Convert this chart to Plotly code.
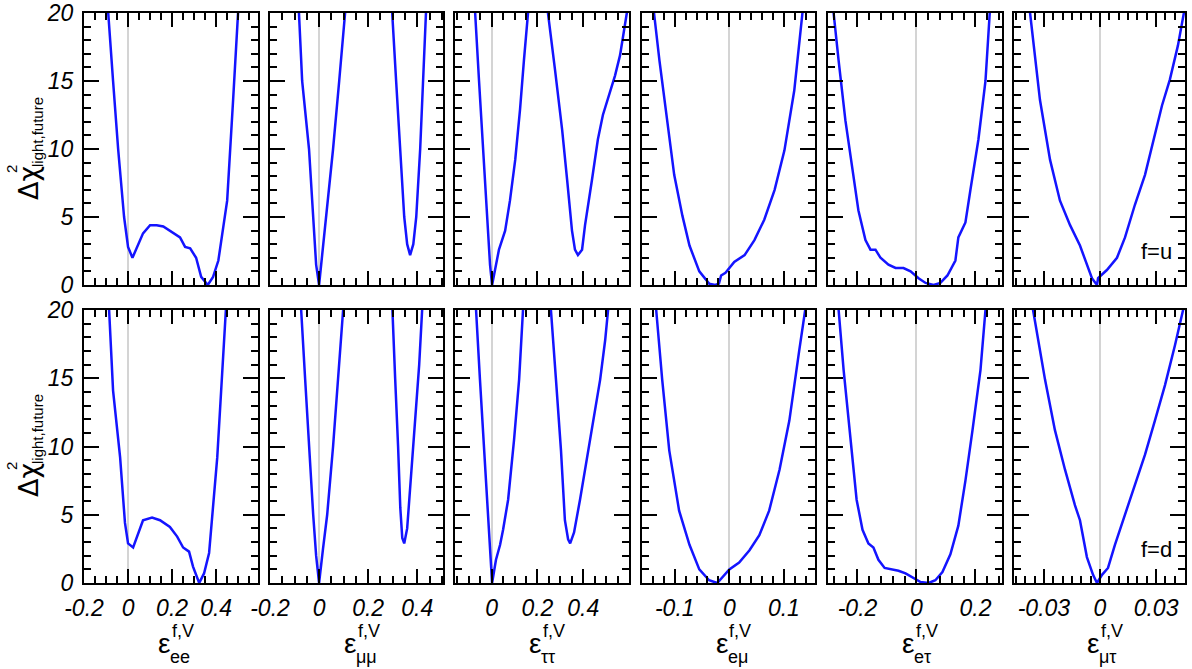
import plotly.graph_objects as go

# ---------------- data ----------------
# panel 1: eps_ee
ee_u_x = [-0.1, -0.09, -0.068, -0.045, -0.018, 0.0, 0.02, 0.04, 0.068, 0.1, 0.13, 0.16, 0.19, 0.21, 0.236,
          0.259, 0.282, 0.309, 0.332, 0.362, 0.386, 0.41, 0.45, 0.477, 0.5, 0.51]
ee_u_y = [24, 20, 15, 10, 5, 2.8, 2.0, 2.8, 3.8, 4.4, 4.4, 4.3, 4.0, 3.8, 3.5, 2.8, 2.7, 2.0, 0.6, 0.0, 0.6,
          1.8, 6.2, 13.6, 20, 23]
ee_d_x = [-0.095, -0.086, -0.068, -0.036, -0.014, 0.0, 0.023, 0.041, 0.068, 0.109, 0.145, 0.19, 0.223, 0.25,
          0.277, 0.295, 0.323, 0.345, 0.368, 0.405, 0.445, 0.455]
ee_d_y = [24, 20, 14.1, 9.2, 4.4, 2.9, 2.6, 3.4, 4.6, 4.8, 4.6, 4.1, 3.4, 2.6, 2.3, 1.2, 0.0, 0.7, 2.2, 9.2, 20, 23]

# panel 2: eps_mumu
mm_u_x = [-0.09, -0.082, -0.069, -0.041, -0.024, -0.012, 0.0, 0.029, 0.057, 0.082, 0.106, 0.115, None,
          0.29, 0.298, 0.314, 0.331, 0.347, 0.359, 0.371, 0.384, 0.396, 0.412, 0.424, 0.437, 0.445]
mm_u_y = [25, 20, 15, 10, 5, 1.5, 0.0, 5, 10, 15, 20, 24, None,
          24, 20, 15, 10, 5, 3.0, 2.2, 3.0, 5, 10, 15, 20, 24]
mm_d_x = [-0.08, -0.073, -0.057, -0.041, -0.024, -0.012, 0.0, 0.016, 0.033, 0.057, 0.078, 0.098, 0.106, None,
          0.29, 0.298, 0.31, 0.322, 0.331, 0.339, 0.347, 0.359, 0.371, 0.392, 0.408, 0.42, 0.428]
mm_d_y = [24, 20, 15, 10, 5, 2.0, 0.0, 2.5, 5, 10, 15, 20, 24, None,
          24, 20, 15, 10, 5.5, 3.3, 2.9, 4.0, 7.0, 12, 16, 20, 24]

# panel 3: eps_tautau
tt_u_x = [-0.08, -0.072, -0.055, -0.038, -0.02, -0.007, 0.002, 0.015, 0.032, 0.059, 0.08, 0.103, 0.124, 0.141,
          0.159, 0.168, None,
          0.237, 0.246, 0.277, 0.308, 0.33, 0.351, 0.364, 0.377, 0.395, 0.408, 0.438, 0.464, 0.486, 0.517,
          0.539, 0.561, 0.587, 0.6]
tt_u_y = [24, 20, 15, 9.9, 4.8, 1.5, 0.0, 1.1, 2.6, 4.0, 6.2, 9.2, 12.9, 16.5, 20, 24, None,
          24, 20, 15.8, 11.4, 7.7, 4.0, 2.6, 2.2, 2.6, 4.4, 7.7, 10.7, 12.5, 14.3, 15.4, 16.9, 19.5, 21]
tt_d_x = [-0.076, -0.068, -0.051, -0.033, -0.016, 0.002, 0.019, 0.037, 0.05, 0.072, 0.098, 0.12, 0.137, 0.145,
          None,
          0.25, 0.259, 0.281, 0.303, 0.32, 0.334, 0.343, 0.36, 0.386, 0.421, 0.452, 0.474, 0.496, 0.509, 0.52]
tt_d_y = [24, 20, 14.9, 9.7, 4.6, 0.0, 1.7, 2.8, 3.9, 6.1, 10.5, 14.9, 20, 24, None,
          24, 20, 14.9, 9.7, 4.6, 3.2, 2.9, 3.7, 6.1, 9.7, 12.7, 14.9, 17.8, 20, 22]

# panel 4: eps_emu
em_u_x = [-0.145, -0.138, -0.128, -0.114, -0.101, -0.086, -0.073, -0.055, -0.037, -0.026, -0.019, -0.015,
          -0.007, 0.009, 0.028, 0.046, 0.064, 0.083, 0.101, 0.119, 0.134, 0.14]
em_u_y = [24, 20, 16.5, 12.1, 8.1, 5.1, 2.9, 1.0, 0.1, 0.0, 0.1, 0.7, 0.9, 1.7, 2.2, 3.3, 4.8, 7.0, 9.9, 14.3,
          20, 24]
em_d_x = [-0.14, -0.134, -0.123, -0.11, -0.092, -0.073, -0.055, -0.037, -0.022, -0.013, 0.0, 0.018, 0.037,
          0.055, 0.073, 0.092, 0.11, 0.128, 0.139, 0.145]
em_d_y = [24, 20, 14.9, 9.7, 5.3, 2.8, 1.0, 0.2, 0.0, 0.4, 1.0, 1.5, 2.4, 3.5, 5.3, 8.3, 11.9, 17, 20, 24]

# panel 5: eps_etau
et_u_x = [-0.29, -0.281, -0.264, -0.241, -0.217, -0.197, -0.173, -0.156, -0.139, -0.122, -0.095, -0.071,
          -0.044, -0.02, 0.007, 0.031, 0.058, 0.081, 0.105, 0.132, 0.142, 0.166, 0.183, 0.21, 0.234, 0.251, 0.26]
et_u_y = [24, 20, 16.5, 12.1, 8.5, 5.5, 3.3, 2.6, 2.6, 2.0, 1.5, 1.25, 1.25, 1.0, 0.5, 0.15, 0.0, 0.15, 0.7,
          1.8, 3.5, 4.6, 7.0, 10.7, 15, 20, 24]
et_d_x = [-0.272, -0.264, -0.247, -0.224, -0.203, -0.183, -0.163, -0.146, -0.129, -0.108, -0.088, -0.061,
          -0.037, -0.014, 0.014, 0.041, 0.064, 0.088, 0.115, 0.142, 0.166, 0.19, 0.217, 0.234, 0.242]
et_d_y = [24, 20, 15.6, 10.5, 6.1, 3.9, 2.9, 2.6, 1.7, 1.1, 1.0, 0.9, 0.7, 0.4, 0.07, 0.0, 0.2, 0.8, 2.1, 4.2,
          7.5, 11.2, 15.6, 20, 24]

# panel 6: eps_mutau
mt_u_x = [-0.040, -0.0374, -0.0321, -0.0267, -0.0214, -0.016, -0.0107, -0.007, -0.0043, -0.0016, -0.001,
          0.0037, 0.0091, 0.0134, 0.0187, 0.0241, 0.0294, 0.0332, 0.0374, 0.0417, 0.0449, 0.047]
mt_u_y = [24, 20, 13.6, 9.2, 6.2, 4.4, 2.9, 1.5, 0.5, 0.0, 0.5, 1.1, 2.0, 3.5, 5.9, 8.1, 11, 13.2, 15.1, 17.6,
          20, 21.5]
mt_d_x = [-0.0375, -0.0358, -0.0294, -0.0241, -0.0187, -0.0134, -0.0107, -0.007, -0.0037, -0.0016, 0.0011,
          0.0043, 0.008, 0.0123, 0.0187, 0.0241, 0.0294, 0.0348, 0.0401, 0.0449, 0.047]
mt_d_y = [24, 20, 14.9, 11.2, 8.3, 5.7, 4.6, 1.9, 0.6, 0.0, 0.6, 1.1, 2.8, 4.6, 7.2, 9.4, 11.9, 14.5, 17.4,
          20, 21.5]

# axes / labels
x_ranges = [[-0.2, 0.59], [-0.2, 0.505], [-0.16, 0.6], [-0.16, 0.157], [-0.3, 0.29], [-0.046, 0.0455]]
x_tickvals = [[-0.2, 0, 0.2, 0.4], [-0.2, 0, 0.2, 0.4], [0, 0.2, 0.4], [-0.1, 0, 0.1], [-0.2, 0, 0.2],
              [-0.03, 0, 0.03]]
x_ticktext = [["-0.2", "0", "0.2", "0.4"], ["-0.2", "0", "0.2", "0.4"], ["0", "0.2", "0.4"],
              ["-0.1", "0", "0.1"], ["-0.2", "0", "0.2"], ["-0.03", "0", "0.03"]]
x_minor = [0.05, 0.05, 0.05, 0.02, 0.04, 0.005]
x_subs = ["ee", "μμ", "ττ", "eμ", "eτ", "μτ"]
y_tickvals = [0, 5, 10, 15, 20]
y_ticktext = ["0", "5", "10", "15", "20"]
row_labels = ["f=u", "f=d"]

curves = [
    [(ee_u_x, ee_u_y), (mm_u_x, mm_u_y), (tt_u_x, tt_u_y), (em_u_x, em_u_y), (et_u_x, et_u_y), (mt_u_x, mt_u_y)],
    [(ee_d_x, ee_d_y), (mm_d_x, mm_d_y), (tt_d_x, tt_d_y), (em_d_x, em_d_y), (et_d_x, et_d_y), (mt_d_x, mt_d_y)],
]

# ---------------- layout geometry ----------------
W, H = 1192, 669
col_px = [(84, 258), (270, 443), (455, 629), (642, 815), (828, 1002), (1014, 1185)]
row_px = [(13, 285), (310, 583)]
FONT = "Liberation Sans, Arial, sans-serif"
BLUE = "rgb(20,20,255)"


def px(x):
    return x / W


def py(y):
    return 1 - y / H


fig = go.Figure()
layout = dict(
    width=W, height=H, margin=dict(l=0, r=0, t=0, b=0, autoexpand=False),
    paper_bgcolor="white", plot_bgcolor="white", showlegend=False,
    font=dict(family=FONT, color="black"),
)
annotations = []

n = 0
for r in range(2):
    for c in range(6):
        n += 1
        xs = "" if n == 1 else str(n)
        xa, ya = "x" + xs, "y" + xs
        cx, cy = curves[r][c]
        fig.add_trace(go.Scatter(x=cx, y=cy, mode="lines", xaxis=xa, yaxis=ya,
                                 line=dict(color=BLUE, width=2.5), hoverinfo="skip"))
        x0, x1 = col_px[c]
        y0, y1 = row_px[r]
        layout["xaxis" + xs] = dict(
            domain=[px(x0), px(x1)], anchor=ya, range=x_ranges[c], automargin=False,
            showline=True, linewidth=2, linecolor="black", mirror="ticks",
            ticks="inside", ticklen=14, tickwidth=1.5, tickcolor="black",
            tickmode="array", tickvals=x_tickvals[c], ticktext=x_ticktext[c],
            showticklabels=(r == 1), ticklabelstandoff=3,
            tickfont=dict(size=23, style="italic", family=FONT),
            minor=dict(ticks="inside", ticklen=7, tickwidth=1.5, tickcolor="black",
                       dtick=x_minor[c], tick0=0, showgrid=False),
            showgrid=False, zeroline=True, zerolinecolor="#d4d4d4", zerolinewidth=1.5,
            fixedrange=True,
        )
        layout["yaxis" + xs] = dict(
            domain=[py(y1), py(y0)], anchor=xa, range=[0, 20], automargin=False,
            showline=True, linewidth=2, linecolor="black", mirror="ticks",
            ticks="inside", ticklen=15, tickwidth=1.5, tickcolor="black",
            tickmode="array", tickvals=y_tickvals, ticktext=y_ticktext,
            showticklabels=(c == 0), ticklabelstandoff=4,
            tickfont=dict(size=23, style="italic", family=FONT),
            minor=dict(ticks="inside", ticklen=7, tickwidth=1.5, tickcolor="black",
                       dtick=1, tick0=0, showgrid=False),
            showgrid=False, zeroline=False, fixedrange=True,
        )
        if r == 1:
            xc = (x0 + x1) / 2
            annotations.append(dict(text="ε", x=px(xc + 1), y=py(643), xref="paper", yref="paper",
                                    xanchor="right", yanchor="middle", showarrow=False,
                                    font=dict(size=28, family=FONT)))
            annotations.append(dict(text="f,V", x=px(xc - 1), y=py(631), xref="paper", yref="paper",
                                    xanchor="left", yanchor="middle", showarrow=False,
                                    font=dict(size=18, family=FONT)))
            annotations.append(dict(text=x_subs[c], x=px(xc - 3), y=py(657), xref="paper", yref="paper",
                                    xanchor="left", yanchor="middle", showarrow=False,
                                    font=dict(size=18, family=FONT)))
    # row label  (f=u / f=d)
    annotations.append(dict(text=row_labels[r], x=px(1156), y=py(252 if r == 0 else 549), xref="paper",
                            yref="paper", xanchor="center", yanchor="middle", showarrow=False,
                            font=dict(size=22, family=FONT)))
    # y-axis title, stacked super/subscript
    off = 0 if r == 0 else 297
    annotations.append(dict(text="Δχ", x=px(28), y=py(183 + off), xref="paper", yref="paper",
                            xanchor="center", yanchor="middle", textangle=-90, showarrow=False,
                            font=dict(size=27, family="DejaVu Sans, " + FONT)))
    annotations.append(dict(text="light,future", x=px(37), y=py(132 + off), xref="paper", yref="paper",
                            xanchor="center", yanchor="middle", textangle=-90, showarrow=False,
                            font=dict(size=15, family=FONT)))
    annotations.append(dict(text="2", x=px(11), y=py(169 + off), xref="paper", yref="paper",
                            xanchor="center", yanchor="middle", textangle=-90, showarrow=False,
                            font=dict(size=15, family=FONT)))

layout["annotations"] = annotations
fig.update_layout(**layout)
fig.write_html("out.html")
